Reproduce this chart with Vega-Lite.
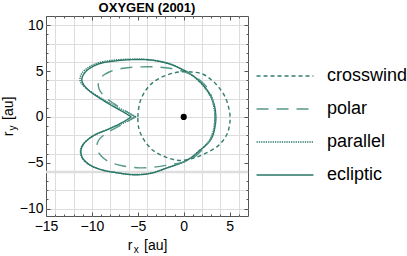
{
  "$schema": "https://vega.github.io/schema/vega-lite/v6.json",
  "width": 202,
  "height": 200,
  "autosize": "none",
  "padding": {"left": 46, "top": 16, "right": 159, "bottom": 40},
  "background": "white",
  "title": {"text": "OXYGEN (2001)", "font": "Liberation Sans", "fontSize": 13, "fontWeight": "bold", "anchor": "middle", "offset": 1, "color": "black"},
  "config": {
    "view": {"stroke": "#555", "strokeWidth": 1},
    "axis": {"labelFont": "Liberation Sans", "titleFont": "Liberation Sans", "labelColor": "black", "titleColor": "black", "tickColor": "#555", "domain": false, "titleFontWeight": "normal", "labelOverlap": false, "labelFlush": false},
    "legend": {"padding": 0}
  },
  "datasets": {
    "hl": [{"y": -6}],
    "origin": [{"x": 0, "y": 0}],
    "curves": [
      {"series": "ecliptic", "i": 0, "x": -5.7, "y": 0},
      {"series": "ecliptic", "i": 1, "x": -6.6, "y": 0.55},
      {"series": "ecliptic", "i": 2, "x": -7.7, "y": 1.15},
      {"series": "ecliptic", "i": 3, "x": -9.0, "y": 1.95},
      {"series": "ecliptic", "i": 4, "x": -10.3, "y": 2.85},
      {"series": "ecliptic", "i": 5, "x": -10.95, "y": 3.6},
      {"series": "ecliptic", "i": 6, "x": -11.1, "y": 4.1},
      {"series": "ecliptic", "i": 7, "x": -10.9, "y": 4.65},
      {"series": "ecliptic", "i": 8, "x": -10.3, "y": 5.25},
      {"series": "ecliptic", "i": 9, "x": -9.2, "y": 5.8},
      {"series": "ecliptic", "i": 10, "x": -7.5, "y": 6.1},
      {"series": "ecliptic", "i": 11, "x": -5.5, "y": 6.25},
      {"series": "ecliptic", "i": 12, "x": -3.6, "y": 6.2},
      {"series": "ecliptic", "i": 13, "x": -1.6, "y": 5.8},
      {"series": "ecliptic", "i": 14, "x": 0.0, "y": 5.1},
      {"series": "ecliptic", "i": 15, "x": 1.0, "y": 4.5},
      {"series": "ecliptic", "i": 16, "x": 1.8, "y": 3.8},
      {"series": "ecliptic", "i": 17, "x": 2.5, "y": 3.0},
      {"series": "ecliptic", "i": 18, "x": 3.0, "y": 2.2},
      {"series": "ecliptic", "i": 19, "x": 3.35, "y": 1.2},
      {"series": "ecliptic", "i": 20, "x": 3.5, "y": 0},
      {"series": "ecliptic", "i": 21, "x": 3.4, "y": -1.1},
      {"series": "ecliptic", "i": 22, "x": 3.05, "y": -2.3},
      {"series": "ecliptic", "i": 23, "x": 2.4, "y": -3.1},
      {"series": "ecliptic", "i": 24, "x": 1.7, "y": -3.7},
      {"series": "ecliptic", "i": 25, "x": 1.0, "y": -4.3},
      {"series": "ecliptic", "i": 26, "x": 0.0, "y": -4.9},
      {"series": "ecliptic", "i": 27, "x": -1.8, "y": -5.55},
      {"series": "ecliptic", "i": 28, "x": -3.6, "y": -6.15},
      {"series": "ecliptic", "i": 29, "x": -5.5, "y": -6.3},
      {"series": "ecliptic", "i": 30, "x": -7.5, "y": -6.05},
      {"series": "ecliptic", "i": 31, "x": -8.8, "y": -5.8},
      {"series": "ecliptic", "i": 32, "x": -10.2, "y": -5.25},
      {"series": "ecliptic", "i": 33, "x": -11.0, "y": -4.5},
      {"series": "ecliptic", "i": 34, "x": -11.2, "y": -3.7},
      {"series": "ecliptic", "i": 35, "x": -10.9, "y": -2.95},
      {"series": "ecliptic", "i": 36, "x": -9.85, "y": -2.05},
      {"series": "ecliptic", "i": 37, "x": -8.0, "y": -1.25},
      {"series": "ecliptic", "i": 38, "x": -6.6, "y": -0.55},
      {"series": "ecliptic", "i": 39, "x": -5.7, "y": 0},
      {"series": "parallel", "i": 0, "x": -5.2, "y": 0},
      {"series": "parallel", "i": 1, "x": -6.3, "y": 0.6},
      {"series": "parallel", "i": 2, "x": -7.6, "y": 1.25},
      {"series": "parallel", "i": 3, "x": -9.0, "y": 2.05},
      {"series": "parallel", "i": 4, "x": -10.4, "y": 2.95},
      {"series": "parallel", "i": 5, "x": -11.15, "y": 3.65},
      {"series": "parallel", "i": 6, "x": -11.3, "y": 4.15},
      {"series": "parallel", "i": 7, "x": -11.1, "y": 4.75},
      {"series": "parallel", "i": 8, "x": -10.45, "y": 5.35},
      {"series": "parallel", "i": 9, "x": -9.3, "y": 5.9},
      {"series": "parallel", "i": 10, "x": -7.5, "y": 6.2},
      {"series": "parallel", "i": 11, "x": -5.5, "y": 6.3},
      {"series": "parallel", "i": 12, "x": -3.6, "y": 6.22},
      {"series": "parallel", "i": 13, "x": -1.6, "y": 5.8},
      {"series": "parallel", "i": 14, "x": 0.0, "y": 5.05},
      {"series": "parallel", "i": 15, "x": 1.0, "y": 4.45},
      {"series": "parallel", "i": 16, "x": 1.8, "y": 3.75},
      {"series": "parallel", "i": 17, "x": 2.45, "y": 2.95},
      {"series": "parallel", "i": 18, "x": 2.95, "y": 2.15},
      {"series": "parallel", "i": 19, "x": 3.25, "y": 1.2},
      {"series": "parallel", "i": 20, "x": 3.4, "y": 0},
      {"series": "parallel", "i": 21, "x": 3.3, "y": -1.1},
      {"series": "parallel", "i": 22, "x": 2.95, "y": -2.3},
      {"series": "parallel", "i": 23, "x": 2.35, "y": -3.1},
      {"series": "parallel", "i": 24, "x": 1.65, "y": -3.7},
      {"series": "parallel", "i": 25, "x": 1.0, "y": -4.3},
      {"series": "parallel", "i": 26, "x": 0.0, "y": -4.9},
      {"series": "parallel", "i": 27, "x": -1.8, "y": -5.55},
      {"series": "parallel", "i": 28, "x": -3.6, "y": -6.12},
      {"series": "parallel", "i": 29, "x": -5.5, "y": -6.28},
      {"series": "parallel", "i": 30, "x": -7.5, "y": -6.05},
      {"series": "parallel", "i": 31, "x": -8.8, "y": -5.8},
      {"series": "parallel", "i": 32, "x": -10.25, "y": -5.25},
      {"series": "parallel", "i": 33, "x": -11.05, "y": -4.5},
      {"series": "parallel", "i": 34, "x": -11.25, "y": -3.7},
      {"series": "parallel", "i": 35, "x": -10.95, "y": -2.95},
      {"series": "parallel", "i": 36, "x": -9.9, "y": -2.1},
      {"series": "parallel", "i": 37, "x": -7.9, "y": -1.2},
      {"series": "parallel", "i": 38, "x": -6.3, "y": -0.55},
      {"series": "parallel", "i": 39, "x": -5.2, "y": 0},
      {"series": "polar", "i": 0, "x": -5.3, "y": 0},
      {"series": "polar", "i": 1, "x": -6.4, "y": 0.7},
      {"series": "polar", "i": 2, "x": -7.6, "y": 1.45},
      {"series": "polar", "i": 3, "x": -8.6, "y": 2.2},
      {"series": "polar", "i": 4, "x": -9.2, "y": 3.0},
      {"series": "polar", "i": 5, "x": -9.3, "y": 3.7},
      {"series": "polar", "i": 6, "x": -8.9, "y": 4.4},
      {"series": "polar", "i": 7, "x": -8.0, "y": 4.95},
      {"series": "polar", "i": 8, "x": -6.6, "y": 5.3},
      {"series": "polar", "i": 9, "x": -4.8, "y": 5.45},
      {"series": "polar", "i": 10, "x": -3.0, "y": 5.45},
      {"series": "polar", "i": 11, "x": -1.5, "y": 5.3},
      {"series": "polar", "i": 12, "x": 0.0, "y": 4.95},
      {"series": "polar", "i": 13, "x": 1.1, "y": 4.45},
      {"series": "polar", "i": 14, "x": 2.1, "y": 3.7},
      {"series": "polar", "i": 15, "x": 2.8, "y": 2.8},
      {"series": "polar", "i": 16, "x": 3.15, "y": 1.8},
      {"series": "polar", "i": 17, "x": 3.35, "y": 0.8},
      {"series": "polar", "i": 18, "x": 3.4, "y": 0},
      {"series": "polar", "i": 19, "x": 3.35, "y": -0.8},
      {"series": "polar", "i": 20, "x": 3.15, "y": -1.8},
      {"series": "polar", "i": 21, "x": 2.75, "y": -2.7},
      {"series": "polar", "i": 22, "x": 2.1, "y": -3.5},
      {"series": "polar", "i": 23, "x": 1.05, "y": -4.45},
      {"series": "polar", "i": 24, "x": -0.3, "y": -5.0},
      {"series": "polar", "i": 25, "x": -1.5, "y": -5.2},
      {"series": "polar", "i": 26, "x": -3.0, "y": -5.45},
      {"series": "polar", "i": 27, "x": -4.8, "y": -5.55},
      {"series": "polar", "i": 28, "x": -6.6, "y": -5.35},
      {"series": "polar", "i": 29, "x": -8.0, "y": -4.95},
      {"series": "polar", "i": 30, "x": -8.9, "y": -4.35},
      {"series": "polar", "i": 31, "x": -9.45, "y": -3.45},
      {"series": "polar", "i": 32, "x": -9.3, "y": -2.6},
      {"series": "polar", "i": 33, "x": -8.6, "y": -1.9},
      {"series": "polar", "i": 34, "x": -7.6, "y": -1.3},
      {"series": "polar", "i": 35, "x": -6.4, "y": -0.65},
      {"series": "polar", "i": 36, "x": -5.3, "y": 0},
      {"series": "crosswind", "i": 0, "x": -5.0, "y": 0},
      {"series": "crosswind", "i": 1, "x": -4.8, "y": 1.5},
      {"series": "crosswind", "i": 2, "x": -4.2, "y": 2.8},
      {"series": "crosswind", "i": 3, "x": -3.3, "y": 3.8},
      {"series": "crosswind", "i": 4, "x": -2.0, "y": 4.5},
      {"series": "crosswind", "i": 5, "x": -0.5, "y": 4.9},
      {"series": "crosswind", "i": 6, "x": 0.8, "y": 4.9},
      {"series": "crosswind", "i": 7, "x": 2.0, "y": 4.7},
      {"series": "crosswind", "i": 8, "x": 3.0, "y": 4.05},
      {"series": "crosswind", "i": 9, "x": 3.8, "y": 3.25},
      {"series": "crosswind", "i": 10, "x": 4.45, "y": 2.3},
      {"series": "crosswind", "i": 11, "x": 4.85, "y": 1.2},
      {"series": "crosswind", "i": 12, "x": 5.05, "y": 0},
      {"series": "crosswind", "i": 13, "x": 4.95, "y": -1.1},
      {"series": "crosswind", "i": 14, "x": 4.65, "y": -2.0},
      {"series": "crosswind", "i": 15, "x": 3.8, "y": -3.1},
      {"series": "crosswind", "i": 16, "x": 2.3, "y": -4.0},
      {"series": "crosswind", "i": 17, "x": 1.0, "y": -4.5},
      {"series": "crosswind", "i": 18, "x": -0.5, "y": -4.75},
      {"series": "crosswind", "i": 19, "x": -1.9, "y": -4.4},
      {"series": "crosswind", "i": 20, "x": -3.4, "y": -3.6},
      {"series": "crosswind", "i": 21, "x": -4.4, "y": -2.4},
      {"series": "crosswind", "i": 22, "x": -4.9, "y": -1.2},
      {"series": "crosswind", "i": 23, "x": -5.0, "y": 0}
    ]
  },
  "layer": [
    {
      "data": {"name": "hl"},
      "mark": {"type": "rule", "color": "#dedede", "strokeWidth": 2.5},
      "encoding": {
        "y": {"field": "y", "type": "quantitative", "scale": {"domain": [-10.8, 11], "nice": false, "zero": false},
          "axis": {"orient": "left", "values": [-10, -8, -6, -4, -2, 0, 2, 4, 6, 8, 10], "grid": true, "gridColor": "#dddddd", "ticks": false, "labels": false, "domain": false, "title": null}}
      }
    },
    {
      "data": {"name": "curves"},
      "mark": {"type": "line", "strokeWidth": 1.4, "interpolate": "catmull-rom"},
      "encoding": {
        "x": {"field": "x", "type": "quantitative", "scale": {"domain": [-15, 7], "nice": false, "zero": false},
          "axis": {"orient": "bottom", "values": [-14, -12, -10, -8, -6, -4, -2, 0, 2, 4, 6], "grid": true, "gridColor": "#dddddd", "ticks": false, "labels": false, "domain": false, "title": null}},
        "y": {"field": "y", "type": "quantitative", "scale": {"domain": [-10.8, 11], "nice": false, "zero": false},
          "axis": {"orient": "left", "values": [-10, -5, 0, 5, 10], "grid": false, "tickSize": -4, "labelPadding": 7, "labelFontSize": 14, "title": "r\u00a0\u00a0\u00a0[au]", "titleFontSize": 14, "titleAngle": 270, "titleX": -34, "titleY": 100, "titleBaseline": "alphabetic", "titleAlign": "center"}},
        "order": {"field": "i", "type": "quantitative"},
        "color": {"field": "series", "type": "nominal",
          "scale": {"domain": ["crosswind", "polar", "parallel", "ecliptic"], "range": ["#357d6e", "#55988a", "#2b7a6a", "#287565"]},
          "legend": {"orient": "none", "legendX": 230, "legendY": 51, "title": null, "symbolType": "M-6,0H6", "symbolSize": 90, "symbolStrokeWidth": 1.5, "labelFontSize": 18, "labelFont": "Liberation Sans", "labelColor": "black", "labelOffset": 33, "symbolOffset": 0, "rowPadding": 15}},
        "strokeDash": {"field": "series", "type": "nominal",
          "scale": {"domain": ["crosswind", "polar", "parallel", "ecliptic"], "range": [[4, 3], [12, 8], [1.3, 1], [1, 0]]},
          "legend": {"orient": "none", "legendX": 230, "legendY": 51, "title": null, "symbolType": "M-6,0H6", "symbolSize": 90, "symbolStrokeWidth": 1.5, "labelFontSize": 18, "labelFont": "Liberation Sans", "labelColor": "black", "labelOffset": 33, "symbolOffset": 0, "rowPadding": 15}}
      }
    },
    {
      "data": {"name": "origin"},
      "mark": {"type": "circle", "color": "black", "size": 38, "opacity": 1},
      "encoding": {
        "x": {"field": "x", "type": "quantitative", "scale": {"domain": [-15, 7], "nice": false, "zero": false},
          "axis": {"orient": "bottom", "values": [-15, -10, -5, 0, 5], "grid": false, "tickSize": -4, "labelPadding": 7, "labelFontSize": 14, "title": "r\u00a0\u00a0\u00a0[au]", "titleFontSize": 14, "titleX": 101, "titleY": 33, "titleBaseline": "alphabetic", "titleAlign": "center"}},
        "y": {"field": "y", "type": "quantitative", "scale": {"domain": [-10.8, 11], "nice": false, "zero": false},
          "axis": {"orient": "left", "values": [-9, -8, -7, -6, -4, -3, -2, -1, 1, 2, 3, 4, 6, 7, 8, 9], "grid": false, "tickSize": -2, "labels": false, "title": "y", "titleFontSize": 10, "titleAngle": 270, "titleX": -31, "titleY": 111.5, "titleBaseline": "alphabetic", "titleAlign": "center"}}
      }
    },
    {
      "data": {"name": "origin"},
      "mark": {"type": "point", "opacity": 0},
      "encoding": {
        "x": {"field": "x", "type": "quantitative", "scale": {"domain": [-15, 7], "nice": false, "zero": false},
          "axis": {"orient": "bottom", "values": [-14, -13, -12, -11, -9, -8, -7, -6, -4, -3, -2, -1, 1, 2, 3, 4, 6], "grid": false, "tickSize": -2, "labels": false, "title": "x", "titleFontSize": 10, "titleX": 89.8, "titleY": 36, "titleBaseline": "alphabetic", "titleAlign": "center"}},
        "y": {"field": "y", "type": "quantitative", "scale": {"domain": [-10.8, 11], "nice": false, "zero": false},
          "axis": {"orient": "right", "values": [-10, -5, 0, 5, 10], "grid": false, "tickSize": -4, "labels": false, "title": null}}
      }
    },
    {
      "data": {"name": "origin"},
      "mark": {"type": "point", "opacity": 0},
      "encoding": {
        "x": {"field": "x", "type": "quantitative", "scale": {"domain": [-15, 7], "nice": false, "zero": false},
          "axis": {"orient": "top", "values": [-15, -10, -5, 0, 5], "grid": false, "tickSize": -4, "labels": false, "title": null}},
        "y": {"field": "y", "type": "quantitative", "scale": {"domain": [-10.8, 11], "nice": false, "zero": false},
          "axis": {"orient": "right", "values": [-9, -8, -7, -6, -4, -3, -2, -1, 1, 2, 3, 4, 6, 7, 8, 9], "grid": false, "tickSize": -2, "labels": false, "title": null}}
      }
    },
    {
      "data": {"name": "origin"},
      "mark": {"type": "point", "opacity": 0},
      "encoding": {
        "x": {"field": "x", "type": "quantitative", "scale": {"domain": [-15, 7], "nice": false, "zero": false},
          "axis": {"orient": "top", "values": [-14, -13, -12, -11, -9, -8, -7, -6, -4, -3, -2, -1, 1, 2, 3, 4, 6], "grid": false, "tickSize": -2, "labels": false, "title": null}},
        "y": {"field": "y", "type": "quantitative", "scale": {"domain": [-10.8, 11], "nice": false, "zero": false}, "axis": null}
      }
    }
  ],
  "resolve": {"axis": {"x": "independent", "y": "independent"}}
}
